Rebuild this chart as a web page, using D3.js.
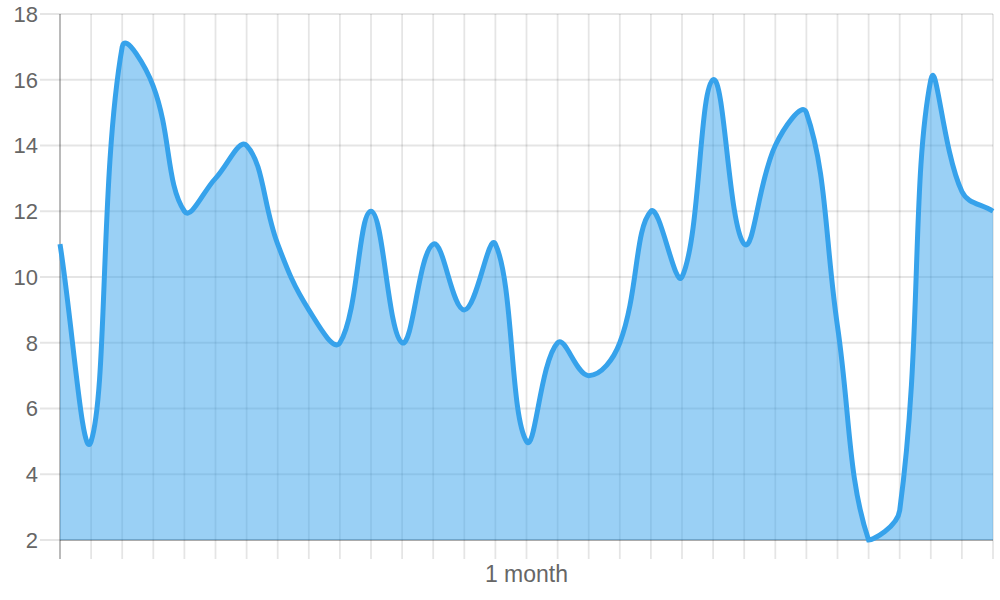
<!DOCTYPE html>
<html>
<head>
<meta charset="utf-8">
<script src="https://cdn.jsdelivr.net/npm/d3@7"></script>
<style>
  body { margin: 0; background: #fff; }
  svg { display: block; font-family: "Liberation Sans", Arial, Helvetica, sans-serif; }
</style>
</head>
<body>
<div class="chart"></div>
<script>
// one value per day
const days = [1, 2, 3, 4, 5, 6, 7, 8, 9, 10, 11, 12, 13, 14, 15, 16, 17, 18, 19, 20, 21, 22, 23, 24, 25, 26, 27, 28, 29, 30, 31];
const values = [11, 5, 17, 15.8, 12, 13, 14, 11, 9, 8, 12, 8, 11, 9, 11, 5, 8, 7, 8, 12, 10, 16, 11, 14, 15, 8.5, 2, 2.9, 16, 12.6, 12];
const yTicks = [2, 4, 6, 8, 10, 12, 14, 16, 18];
const xTitle = '1 month';

const w = 1000, h = 600;
// plot area edges (window.top is taken, hence the names)
const areaLeft = 60, areaRight = 993, areaTop = 14, areaBottom = 540;

const x = d3.scaleLinear().domain([days[0], days[days.length - 1]]).range([areaLeft, areaRight]);
const y = d3.scaleLinear().domain([2, 18]).range([areaBottom, areaTop]);

const svg = d3.select('.chart').append('svg')
  .attr('width', w)
  .attr('height', h);

const grid = 'rgba(0,0,0,0.1)';
const gridWidth = 1.8;

// horizontal grid + tick stubs on the left
svg.append('g').selectAll('line')
  .data(yTicks)
  .enter().append('line')
  .attr('x1', areaLeft - 20).attr('x2', areaRight)
  .attr('y1', d => y(d)).attr('y2', d => y(d))
  .attr('stroke', grid).attr('stroke-width', gridWidth);

// vertical grid, running down into the tick marks
svg.append('g').selectAll('line')
  .data(days)
  .enter().append('line')
  .attr('x1', d => x(d)).attr('x2', d => x(d))
  .attr('y1', areaTop).attr('y2', areaBottom + 19)
  .attr('stroke', (d, i) => i === 0 ? 'rgba(0,0,0,0.3)' : grid)
  .attr('stroke-width', gridWidth);

// bottom axis line
svg.append('line')
  .attr('x1', areaLeft).attr('x2', areaRight)
  .attr('y1', areaBottom).attr('y2', areaBottom)
  .attr('stroke', 'rgba(0,0,0,0.25)')
  .attr('stroke-width', gridWidth);

// y labels
svg.append('g').selectAll('text')
  .data(yTicks)
  .enter().append('text')
  .attr('x', 38)
  .attr('y', d => y(d))
  .attr('dy', '0.36em')
  .attr('text-anchor', 'end')
  .attr('fill', '#666')
  .style('font-size', '22px')
  .text(d => d);

svg.append('text')
  .attr('x', (areaLeft + areaRight) / 2)
  .attr('y', 582)
  .attr('text-anchor', 'middle')
  .attr('fill', '#666')
  .style('font-size', '23px')
  .text(xTitle);

// chart.js style spline (tension 0.4, control points capped to the area)
function splinePoints(pts, t) {
  const cap = (v, lo, hi) => Math.max(lo, Math.min(hi, v));
  return pts.map((p, i) => {
    const prev = pts[i - 1] || p;
    const next = pts[i + 1] || p;
    const d01 = Math.hypot(p.x - prev.x, p.y - prev.y);
    const d12 = Math.hypot(next.x - p.x, next.y - p.y);
    let s01 = d01 / (d01 + d12), s12 = d12 / (d01 + d12);
    if (!isFinite(s01)) s01 = 0;
    if (!isFinite(s12)) s12 = 0;
    const fa = t * s01, fb = t * s12;
    return {
      x: p.x, y: p.y,
      c1x: cap(p.x - fa * (next.x - prev.x), areaLeft, areaRight),
      c1y: cap(p.y - fa * (next.y - prev.y), areaTop, areaBottom),
      c2x: cap(p.x + fb * (next.x - prev.x), areaLeft, areaRight),
      c2y: cap(p.y + fb * (next.y - prev.y), areaTop, areaBottom)
    };
  });
}

const pts = splinePoints(days.map((d, i) => ({x: x(d), y: y(values[i])})), 0.4);

function drawCurve(p) {
  p.moveTo(pts[0].x, pts[0].y);
  for (let i = 1; i < pts.length; i++) {
    const a = pts[i - 1], b = pts[i];
    p.bezierCurveTo(a.c2x, a.c2y, b.c1x, b.c1y, b.x, b.y);
  }
  return p;
}

const area = drawCurve(d3.path());
area.lineTo(x(days[days.length - 1]), areaBottom);
area.lineTo(x(days[0]), areaBottom);
area.closePath();

svg.append('path')
  .attr('d', area.toString())
  .attr('fill', 'rgba(54,162,235,0.5)');

svg.append('path')
  .attr('d', drawCurve(d3.path()).toString())
  .attr('fill', 'none')
  .attr('stroke', 'rgb(54,162,235)')
  .attr('stroke-width', 5);
</script>
</body>
</html>
